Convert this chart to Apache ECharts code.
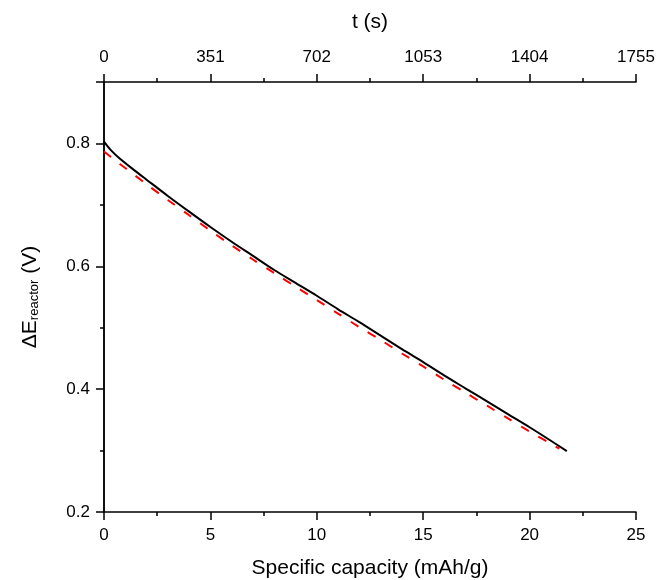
<!DOCTYPE html>
<html><head><meta charset="utf-8">
<script src="https://cdn.jsdelivr.net/npm/echarts@6/dist/echarts.min.js"></script>
<style>html,body{margin:0;padding:0;background:#fff}#c{width:658px;height:580px}</style>
</head><body><div id="c"></div>
<script>
const capacityBlack = [0, 0.3, 0.75, 1.4, 2, 3, 4, 5, 6, 7, 8, 9, 10, 11, 12, 13, 14, 15, 16, 17, 18, 19, 20, 21, 21.75];
const deltaEBlack  = [0.803, 0.790, 0.775, 0.757, 0.741, 0.7145, 0.689, 0.664, 0.640, 0.617, 0.594, 0.573, 0.552, 0.530, 0.509, 0.487, 0.465, 0.444, 0.422, 0.401, 0.380, 0.359, 0.338, 0.316, 0.299];
const capacityRed = [0, 0.5, 1, 2, 3, 4, 5, 6, 7, 8, 9, 10, 11, 12, 13, 14, 15, 16, 17, 18, 19, 20, 21, 21.4];
const deltaERed   = [0.787, 0.773, 0.760, 0.7335, 0.708, 0.683, 0.658, 0.634, 0.611, 0.589, 0.567, 0.545, 0.523, 0.501, 0.480, 0.458, 0.437, 0.415, 0.394, 0.373, 0.352, 0.331, 0.311, 0.303];
const timeTicks = [0, 351, 702, 1053, 1404, 1755];
const capacityTicks = [0, 5, 10, 15, 20, 25];
const voltageTicks = [0.2, 0.4, 0.6, 0.8];

const FONT = 'Liberation Sans, Arial, sans-serif';
const axisLine = {show: true, lineStyle: {color: '#000', width: 1.5}};
const tick = {show: true, length: 8, lineStyle: {color: '#000', width: 1.5}};
const minor = {show: true, splitNumber: 2, length: 4, lineStyle: {color: '#000', width: 1.5}};
const chart = echarts.init(document.getElementById('c'));
chart.setOption({
  animation: false,
  grid: {left: 104, right: 22, top: 82, bottom: 68, containLabel: false, outerBoundsMode: 'none'},
  xAxis: [
    {type: 'value', position: 'bottom', min: capacityTicks[0], max: capacityTicks[capacityTicks.length-1], interval: 5,
     name: 'Specific capacity (mAh/g)', nameLocation: 'middle', nameGap: 46,
     nameTextStyle: {fontFamily: FONT, fontSize: 21, color: '#000'},
     axisLine: axisLine, axisTick: tick, minorTick: minor,
     axisLabel: {fontFamily: FONT, fontSize: 17, color: '#000', margin: 15, formatter: v => String(v)},
     splitLine: {show: false}},
    {type: 'value', position: 'top', min: timeTicks[0], max: timeTicks[timeTicks.length-1], interval: 351,
     name: 't (s)', nameLocation: 'middle', nameGap: 49,
     nameTextStyle: {fontFamily: FONT, fontSize: 21, color: '#000'},
     axisLine: axisLine, axisTick: tick, minorTick: minor,
     axisLabel: {fontFamily: FONT, fontSize: 17, color: '#000', margin: 16, formatter: v => String(Math.round(v))},
     splitLine: {show: false}}
  ],
  yAxis: [
    {type: 'value', position: 'left', min: 0.2, max: 0.9, interval: 0.2,
     name: '{a|ΔE}{b|reactor}{a| (V)}', nameLocation: 'middle', nameGap: 63, nameRotate: 90,
     nameTextStyle: {fontFamily: FONT, color: '#000',
       rich: {a: {fontFamily: FONT, fontSize: 21, color: '#000', verticalAlign: 'bottom', lineHeight: 26},
              b: {fontFamily: FONT, fontSize: 13, color: '#000', verticalAlign: 'bottom', lineHeight: 18}}},
     axisLine: axisLine, axisTick: tick, minorTick: minor,
     axisLabel: {fontFamily: FONT, fontSize: 17, color: '#000', margin: 14,
       formatter: v => voltageTicks.some(t => Math.abs(t - v) < 1e-6) ? v.toFixed(1) : ''},
     splitLine: {show: false}},
    {type: 'value', position: 'right', min: 0.2, max: 0.9, interval: 0.2,
     axisLine: axisLine, axisTick: {show: false}, axisLabel: {show: false}, splitLine: {show: false}}
  ],
  series: [
    {type: 'line', xAxisIndex: 0, yAxisIndex: 0, showSymbol: false, smooth: 0.3,
     data: capacityRed.map((x, i) => [x, deltaERed[i]]),
     lineStyle: {color: '#ff0000', width: 2, type: [9, 11]}, z: 2},
    {type: 'line', xAxisIndex: 0, yAxisIndex: 0, showSymbol: false, smooth: 0.3,
     data: capacityBlack.map((x, i) => [x, deltaEBlack[i]]),
     lineStyle: {color: '#000', width: 2}, z: 3}
  ]
});
</script></body></html>
